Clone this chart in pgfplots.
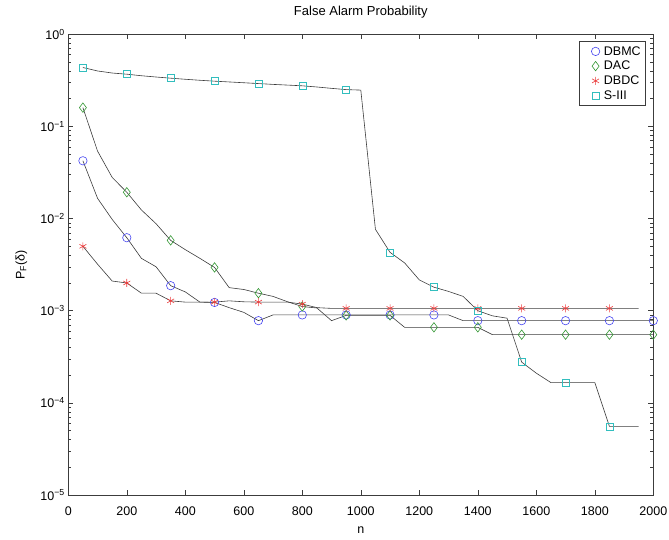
\documentclass[border=0pt]{standalone}
\usepackage{fontspec}
\setmainfont{Liberation Sans}
\usepackage{pgfplots}
\usepackage{pgfplotstable}
\pgfplotsset{compat=1.18}

\definecolor{mblue}{RGB}{70,70,240}
\definecolor{mgreen}{RGB}{50,150,50}
\definecolor{mred}{RGB}{235,60,60}
\definecolor{mcyan}{RGB}{50,190,190}
\definecolor{lineg}{RGB}{60,60,60}

% false alarm probability vs n
\pgfplotstableread{
n pf
50 0.0424
100 0.0166
150 0.0098
200 0.0062
250 0.0037
300 0.0030
350 0.00187
400 0.0016
450 0.00124
500 0.00123
550 0.00108
600 0.00096
650 0.00078
700 0.00090
750 0.00090
800 0.00090
850 0.00090
900 0.00090
950 0.00090
1000 0.00090
1050 0.00090
1100 0.00090
1150 0.00090
1200 0.00090
1250 0.00090
1300 0.00090
1350 0.00078
1400 0.00078
1450 0.00078
1500 0.00078
1550 0.00078
1600 0.00078
1650 0.00078
1700 0.00078
1750 0.00078
1800 0.00078
1850 0.00078
1900 0.00078
1950 0.00078
2000 0.00078
}\dbmc

\pgfplotstableread{
n pf
50 0.160
100 0.054
150 0.028
200 0.0193
250 0.0124
300 0.0088
350 0.0058
400 0.0046
450 0.0037
500 0.00295
550 0.00178
600 0.0017
650 0.00155
700 0.00143
750 0.00125
800 0.00111
850 0.00107
900 0.00078
950 0.00089
1000 0.00089
1050 0.00089
1100 0.00089
1150 0.00066
1200 0.00066
1250 0.00066
1300 0.00066
1350 0.00066
1400 0.00066
1450 0.00055
1500 0.00055
1550 0.00055
1600 0.00055
1650 0.00055
1700 0.00055
1750 0.00055
1800 0.00055
1850 0.00055
1900 0.00055
1950 0.00055
2000 0.00055
}\dac

\pgfplotstableread{
n pf
50 0.0050
100 0.0032
150 0.0021
200 0.0020
250 0.00155
300 0.00155
350 0.00128
400 0.00124
450 0.00124
500 0.00124
550 0.00128
600 0.00125
650 0.00124
700 0.00124
750 0.00124
800 0.00118
850 0.00108
900 0.00106
950 0.00106
1000 0.00106
1050 0.00106
1100 0.00106
1150 0.00106
1200 0.00106
1250 0.00106
1300 0.00106
1350 0.00106
1400 0.00106
1450 0.00106
1500 0.00106
1550 0.00106
1600 0.00106
1650 0.00106
1700 0.00106
1750 0.00106
1800 0.00106
1850 0.00106
1900 0.00106
1950 0.00106
}\dbdc

\pgfplotstableread{
n pf
50 0.436
100 0.400
150 0.380
200 0.369
250 0.355
300 0.344
350 0.334
400 0.325
450 0.317
500 0.310
550 0.304
600 0.298
650 0.292
700 0.286
750 0.281
800 0.276
850 0.268
900 0.259
950 0.251
1000 0.248
1050 0.00765
1100 0.0043
1150 0.0033
1200 0.00216
1250 0.0018
1300 0.00162
1350 0.00143
1400 0.00100
1450 0.00088
1500 0.00083
1550 0.000277
1600 0.00021
1650 0.000166
1700 0.000166
1750 0.000166
1800 0.000166
1850 0.0000555
1900 0.0000555
1950 0.0000555
}\siii

\begin{document}
\begin{tikzpicture}
\begin{axis}[
  scale only axis, width=585pt, height=460.7pt,
  ymode=log, xmin=0, xmax=2000, ymin=1e-5, ymax=1,
  xtick={0,200,...,2000},
  ytick={1e-5,1e-4,1e-3,1e-2,1e-1,1},
  yticklabels={10\textsuperscript{−5},10\textsuperscript{−4},10\textsuperscript{−3},10\textsuperscript{−2},10\textsuperscript{−1},10\textsuperscript{0}},
  minor ytick={2e-5,3e-5,4e-5,5e-5,6e-5,7e-5,8e-5,9e-5,
    2e-4,3e-4,4e-4,5e-4,6e-4,7e-4,8e-4,9e-4,
    2e-3,3e-3,4e-3,5e-3,6e-3,7e-3,8e-3,9e-3,
    2e-2,3e-2,4e-2,5e-2,6e-2,7e-2,8e-2,9e-2,
    0.2,0.3,0.4,0.5,0.6,0.7,0.8,0.9},
  tick align=inside,
  major tick length=5pt, minor tick length=3pt,
  axis line style={lineg, line width=0.6pt},
  every tick/.style={lineg, line width=0.5pt},
  tick label style={font=\fontsize{12.5}{15}\selectfont},
  xticklabel style={anchor=base, yshift=-20pt},
  /pgf/number format/assume math mode=true,
  /pgf/number format/1000 sep={},
  title={False Alarm Probability},
  every axis title/.style={at={(axis description cs:0.5,1)}, yshift=22pt, anchor=center, font=\fontsize{13}{15}\selectfont},
  xlabel={n},
  every axis x label/.style={at={(axis description cs:0.5,0)}, yshift=-35pt, anchor=center, font=\fontsize{12.5}{15}\selectfont},
  ylabel={P\textsubscript{F}(δ)},
  every axis y label/.style={at={(axis description cs:0,0.5)}, xshift=-47pt, rotate=90, anchor=center, font=\fontsize{12.5}{15}\selectfont},
  legend style={at={(1,1)}, anchor=north east, xshift=-7.3pt, yshift=-6.7pt,
    draw=lineg, line width=0.6pt, font=\fontsize{12.5}{15}\selectfont,
    cells={anchor=west}, row sep=0.5pt, inner xsep=3pt, inner ysep=3pt},
  legend image code/.code={\path (-13pt,0pt) (6pt,0pt);\draw[#1, mark repeat=1, mark phase=1] plot coordinates {(0pt,0pt)};},
  every axis plot/.append style={lineg, line width=0.6pt, mark repeat=3, mark phase=1},
]
\addplot[mark=o, mark options={draw=mblue, line width=0.6pt, mark size=4.2pt}] table[x=n, y=pf] {\dbmc};
\addlegendentry{DBMC}
\addplot[mark=diamond, mark options={draw=mgreen, line width=0.6pt, mark size=4.7pt}] table[x=n, y=pf] {\dac};
\addlegendentry{DAC}
\addplot[mark=asterisk, mark options={draw=mred, line width=0.6pt, mark size=4pt}] table[x=n, y=pf] {\dbdc};
\addlegendentry{DBDC}
\addplot[mark=square, mark options={draw=mcyan, line width=0.6pt, mark size=3.5pt}] table[x=n, y=pf] {\siii};
\addlegendentry{S-III}
\end{axis}
\pgfresetboundingbox
\path[use as bounding box] ([xshift=-68.3pt,yshift=-45pt]current axis.south west) rectangle ([xshift=15.7pt,yshift=34.3pt]current axis.north east);
\end{tikzpicture}
\end{document}
